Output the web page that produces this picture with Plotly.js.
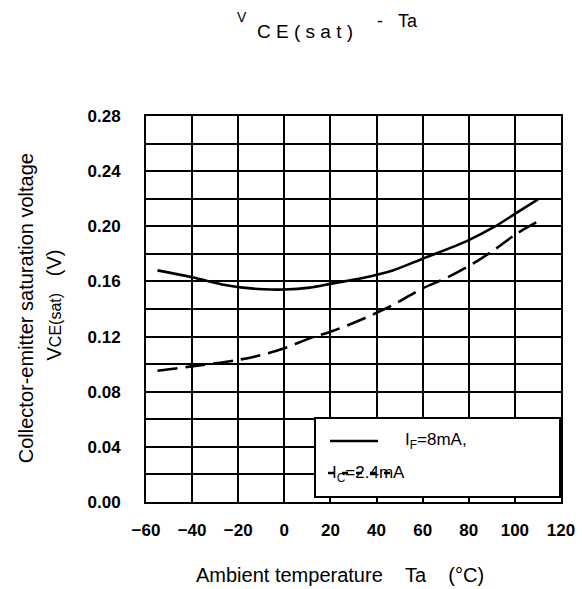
<!DOCTYPE html>
<html>
<head>
<meta charset="utf-8">
<script src="https://cdn.plot.ly/plotly-3.0.1.min.js"></script>
<style>html,body{margin:0;padding:0;background:#fff;}#chart{width:582px;height:589px;}</style>
</head>
<body>
<div id="chart"></div>
<script>
// Data
const solidTemp = [-55, -40, -27, -19, -9, 0, 11, 21, 34, 47, 60, 80, 91, 100, 110];
const solidVce  = [0.168, 0.163, 0.1578, 0.1557, 0.1543, 0.1541, 0.1555, 0.1586, 0.1625, 0.168, 0.1765, 0.190, 0.1995, 0.209, 0.2195];
const dashTemp  = [-55, -42, -25, -13, 0, 11, 20, 33, 47, 60, 70, 82, 92, 101, 110];
const dashVce   = [0.0952, 0.098, 0.1018, 0.1054, 0.1115, 0.1187, 0.1235, 0.132, 0.1429, 0.155, 0.1623, 0.1731, 0.184, 0.1949, 0.2035];
const xTickVals = [-60, -40, -20, 0, 20, 40, 60, 80, 100, 120];
const yTickVals = [0.00, 0.04, 0.08, 0.12, 0.16, 0.20, 0.24, 0.28];
const yTickText = ["0.00", "0.04", "0.08", "0.12", "0.16", "0.20", "0.24", "0.28"];

const FONT = "Liberation Sans, Arial, sans-serif";
const NB = "\u00a0";

const traces = [
  {x: solidTemp, y: solidVce, mode: "lines", line: {color: "#000", width: 2.6, shape: "spline"}, showlegend: false, hoverinfo: "skip"},
  {x: dashTemp, y: dashVce, mode: "lines", line: {color: "#000", width: 2.6, shape: "spline", dash: "20px,8px"}, showlegend: false, hoverinfo: "skip"}
];

const layout = {
  width: 582, height: 589,
  margin: {l: 146, r: 21, t: 116, b: 87, pad: 0},
  paper_bgcolor: "#fff", plot_bgcolor: "#fff",
  font: {family: FONT, color: "#000"},
  showlegend: false,
  xaxis: {
    range: [-60, 120], tickvals: xTickVals, ticks: "", showgrid: true, gridcolor: "#000", gridwidth: 2,
    showline: true, mirror: true, linecolor: "#000", linewidth: 2, zeroline: false,
    tickfont: {family: FONT, size: 17, weight: "bold", color: "#000"}, ticklabelstandoff: 12, fixedrange: true
  },
  yaxis: {
    range: [0, 0.28], tickvals: yTickVals, ticktext: yTickText, ticks: "", showgrid: true, gridcolor: "#000", gridwidth: 2,
    minor: {tickvals: [0.02, 0.06, 0.10, 0.14, 0.18, 0.22, 0.26], showgrid: true, gridcolor: "#000", gridwidth: 2, ticks: ""},
    showline: true, mirror: true, linecolor: "#000", linewidth: 2, zeroline: false,
    tickfont: {family: FONT, size: 17, weight: "bold", color: "#000"}, ticklabelstandoff: 20, fixedrange: true
  },
  shapes: [
    {type: "rect", xref: "paper", yref: "paper", x0: 0.4072, x1: 0.9976, y0: 0.013, y1: 0.2176,
     fillcolor: "#fff", line: {color: "#000", width: 2}, layer: "above"},
    {type: "line", xref: "paper", yref: "paper", x0: 0.4434, x1: 0.5590, y0: 0.158, y1: 0.158,
     line: {color: "#000", width: 2.6}, layer: "above"},
    {type: "line", xref: "paper", yref: "paper", x0: 0.4386, x1: 0.6072, y0: 0.0751, y1: 0.0751,
     line: {color: "#000", width: 2.4, dash: "6px,8px"}, layer: "above"}
  ],
  annotations: [
    {text: "V", xref: "paper", yref: "paper", x: 0.2313, y: 1.256, xanchor: "center", yanchor: "middle",
     showarrow: false, font: {family: FONT, size: 14}},
    {text: ["C","E","(","s","a","t",")"].join(NB), xref: "paper", yref: "paper", x: 0.3831, y: 1.2189,
     xanchor: "center", yanchor: "middle", showarrow: false, font: {family: FONT, size: 19}},
    {text: "-" + NB + NB + NB + "Ta", xref: "paper", yref: "paper", x: 0.5518, y: 1.2474,
     xanchor: "left", yanchor: "middle", showarrow: false, font: {family: FONT, size: 18}},
    {text: "Collector-emitter saturation voltage", xref: "paper", yref: "paper", x: -0.2892, y: 0.502,
     xanchor: "center", yanchor: "middle", textangle: -90, showarrow: false, font: {family: FONT, size: 20}},
    {text: "V<span style='font-size:16px'>CE(sat)</span>" + NB + NB + NB + "(V)", xref: "paper", yref: "paper",
     x: -0.2229, y: 0.5104, xanchor: "center", yanchor: "middle", textangle: -90, showarrow: false,
     font: {family: FONT, size: 20}},
    {text: "Ambient temperature" + NB + NB + NB + NB + "Ta" + NB + NB + NB + NB + "(°C)", xref: "paper", yref: "paper",
     x: 0.4675, y: -0.189, xanchor: "center", yanchor: "middle", showarrow: false, font: {family: FONT, size: 20}},
    {text: "I<sub>F</sub>=8mA,", xref: "paper", yref: "paper", x: 0.6193, y: 0.158, xanchor: "left", yanchor: "middle",
     showarrow: false, font: {family: FONT, size: 17}},
    {text: "I<sub>C</sub>=2.4mA", xref: "paper", yref: "paper", x: 0.4434, y: 0.0725, xanchor: "left", yanchor: "middle",
     showarrow: false, font: {family: FONT, size: 17}}
  ]
};

Plotly.newPlot("chart", traces, layout, {displayModeBar: false, staticPlot: true});
</script>
</body>
</html>
